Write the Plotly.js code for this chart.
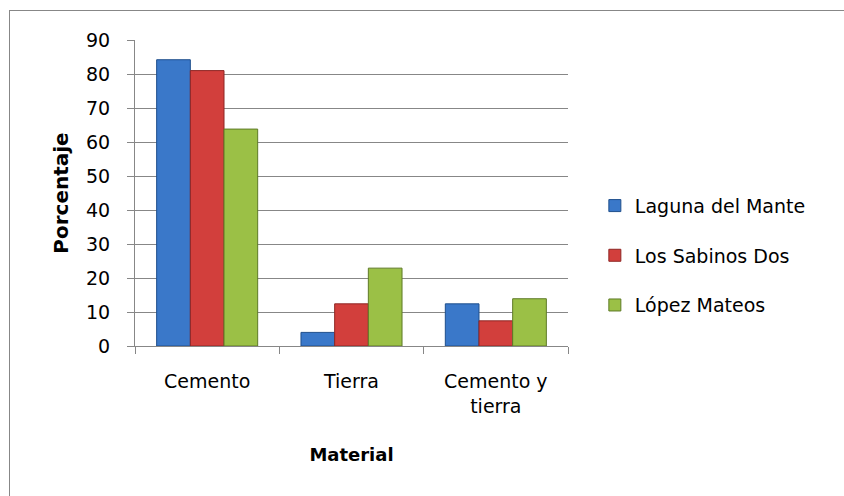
<!DOCTYPE html>
<html>
<head>
<meta charset="utf-8">
<script src="https://cdn.plot.ly/plotly-3.0.1.min.js"></script>
<style>
  html, body { margin: 0; padding: 0; background: #fff; }
  #wrap { position: relative; width: 844px; height: 496px; overflow: hidden; }
  #chart { width: 844px; height: 496px; }
  #frame { position: absolute; left: 9px; top: 10px; width: 900px; height: 600px;
           border: 1.5px solid #878787; pointer-events: none; }
</style>
</head>
<body>
<div id="wrap">
  <div id="chart"></div>
  <div id="frame"></div>
</div>
<script>
const categories = ["Cemento", "Tierra", "Cemento y<br>tierra"];
const seriesNames = ["Laguna del Mante", "Los Sabinos Dos", "López Mateos"];
const lagunaDelMante = [84.2, 4.0, 12.4];
const losSabinosDos = [81.0, 12.4, 7.4];
const lopezMateos = [63.8, 22.9, 13.9];
const yTicks = [0, 10, 20, 30, 40, 50, 60, 70, 80, 90];

const colors = ["#3a78c9", "#d23f3c", "#9bc046"];
const outlines = ["#1f4f8c", "#8e2624", "#5e7a26"];
const values = [lagunaDelMante, losSabinosDos, lopezMateos];

const traces = values.map((v, i) => ({
  type: "bar",
  name: seriesNames[i],
  x: categories,
  y: v,
  legendgroup: "g" + i,
  marker: { color: colors[i], line: { color: outlines[i], width: 1 } },
  hoverinfo: "skip"
}));

const font = "DejaVu Sans, sans-serif";

const layout = {
  width: 844,
  height: 496,
  margin: { l: 135, r: 276, t: 40, b: 150 },
  paper_bgcolor: "#ffffff",
  plot_bgcolor: "#ffffff",
  barmode: "group",
  bargap: 0.3,
  bargroupgap: 0,
  showlegend: true,
  legend: {
    x: 1.062, xanchor: "left",
    y: 0.295, yanchor: "middle",
    font: { family: font, size: 19, color: "#000" },
    tracegroupgap: 22,
    itemwidth: 30,
    bgcolor: "rgba(0,0,0,0)"
  },
  xaxis: {
    type: "category",
    showline: true,
    linecolor: "#878787",
    linewidth: 1,
    ticks: "outside",
    tickson: "boundaries",
    ticklen: 7,
    tickcolor: "#878787",
    showgrid: false,
    ticklabelstandoff: 18,
    tickfont: { family: font, size: 19, color: "#000" },
    title: { text: "<b>Material</b>", font: { family: font, size: 18, color: "#000" }, standoff: 32 }
  },
  yaxis: {
    range: [0, 90],
    tickvals: yTicks,
    showline: true,
    linecolor: "#878787",
    linewidth: 1,
    ticks: "outside",
    ticklen: 7,
    tickcolor: "#878787",
    showgrid: true,
    gridcolor: "#878787",
    gridwidth: 1,
    zeroline: false,
    ticklabelstandoff: 13,
    tickfont: { family: font, size: 19, color: "#000" },
    title: { text: "<b>Porcentaje</b>", font: { family: font, size: 20, color: "#000" }, standoff: 12 }
  }
};

Plotly.newPlot("chart", traces, layout, { displayModeBar: false, staticPlot: true });
</script>
</body>
</html>
